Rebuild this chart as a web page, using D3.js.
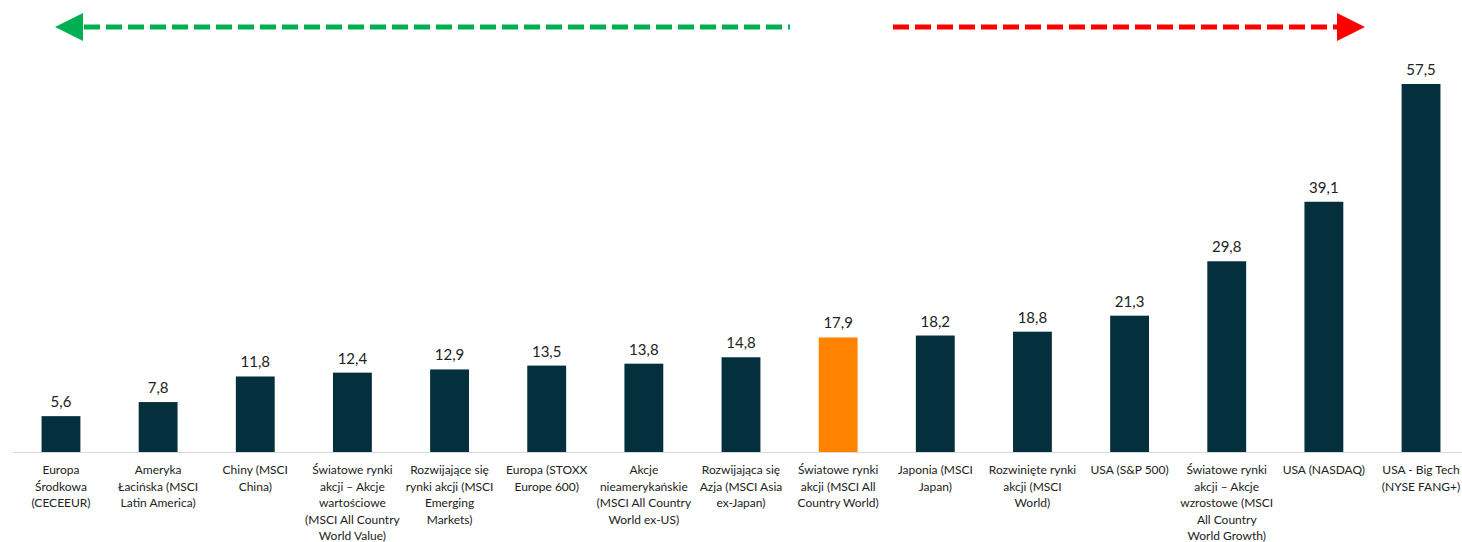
<!DOCTYPE html>
<html>
<head>
<meta charset="utf-8">
<script src="https://cdn.jsdelivr.net/npm/d3@7"></script>
<style>
  body { margin: 0; background: #fff; }
  text { font-family: Lato, "Liberation Sans", sans-serif; }
</style>
</head>
<body>
<svg id="chart"></svg>
<script>
// Categories (line breaks as in the original chart)
const categories = [
  "Europa\nŚrodkowa\n(CECEEUR)",
  "Ameryka\nŁacińska (MSCI\nLatin America)",
  "Chiny (MSCI\nChina)",
  "Światowe rynki\nakcji – Akcje\nwartościowe\n(MSCI All Country\nWorld Value)",
  "Rozwijające się\nrynki akcji (MSCI\nEmerging\nMarkets)",
  "Europa (STOXX\nEurope 600)",
  "Akcje\nnieamerykańskie\n(MSCI All Country\nWorld ex-US)",
  "Rozwijająca się\nAzja (MSCI Asia\nex-Japan)",
  "Światowe rynki\nakcji (MSCI All\nCountry World)",
  "Japonia (MSCI\nJapan)",
  "Rozwinięte rynki\nakcji (MSCI\nWorld)",
  "USA (S&P 500)",
  "Światowe rynki\nakcji – Akcje\nwzrostowe (MSCI\nAll Country\nWorld Growth)",
  "USA (NASDAQ)",
  "USA - Big Tech\n(NYSE FANG+)"
];
const values = [5.6, 7.8, 11.8, 12.4, 12.9, 13.5, 13.8, 14.8, 17.9, 18.2, 18.8, 21.3, 29.8, 39.1, 57.5];
const highlighted = ["Światowe rynki\nakcji (MSCI All\nCountry World)"];

const W = 1462, H = 542;
const svg = d3.select("#chart").attr("width", W).attr("height", H);

// Scales
const x = d3.scaleBand()
  .domain(categories)
  .range([12.4, 1469.6])
  .paddingInner(0.6)
  .paddingOuter(0.3);

const y = d3.scaleLinear()
  .domain([0, 57.5])
  .range([452, 84]);

const fmt = v => d3.format(".1f")(v).replace(".", ",");

// Direction arrows at the top
function arrow(x1, x2, tipX, baseX, color) {
  svg.append("line")
    .attr("x1", x1).attr("x2", x2)
    .attr("y1", 27).attr("y2", 27)
    .attr("stroke", color)
    .attr("stroke-width", 5)
    .attr("stroke-dasharray", "16,6");
  svg.append("path")
    .attr("d", `M${tipX},27 L${baseX},13 L${baseX},41 Z`)
    .attr("fill", color);
}
arrow(84, 790, 55, 83, "#00b050");
arrow(893, 1337, 1365, 1337, "#ff0000");

// Bars
svg.selectAll(".bar")
  .data(values)
  .enter().append("rect")
  .attr("class", "bar")
  .attr("x", (d, i) => x(categories[i]))
  .attr("width", x.bandwidth())
  .attr("y", d => y(d))
  .attr("height", d => y(0) - y(d))
  .attr("fill", (d, i) => highlighted.includes(categories[i]) ? "#ff8200" : "#03303c");

// Value labels
svg.selectAll(".val")
  .data(values)
  .enter().append("text")
  .attr("class", "val")
  .attr("x", (d, i) => x(categories[i]) + x.bandwidth() / 2)
  .attr("y", d => y(d) - 9)
  .attr("text-anchor", "middle")
  .attr("font-size", 15)
  .attr("fill", "#222")
  .text(fmt);

// Axis baseline
svg.append("line")
  .attr("x1", 13).attr("x2", W)
  .attr("y1", y(0) + 0.5).attr("y2", y(0) + 0.5)
  .attr("stroke", "#d9d9d9")
  .attr("stroke-width", 1);

// Category labels
const lab = svg.selectAll(".cat")
  .data(categories)
  .enter().append("text")
  .attr("class", "cat")
  .attr("text-anchor", "middle")
  .attr("font-size", 12)
  .attr("fill", "#222")
  .attr("transform", d => `translate(${x(d) + x.bandwidth() / 2},474)`);

lab.selectAll("tspan")
  .data(d => d.split("\n"))
  .enter().append("tspan")
  .attr("x", 0)
  .attr("y", (d, i) => i * 16.6)
  .text(d => d);
</script>
</body>
</html>
